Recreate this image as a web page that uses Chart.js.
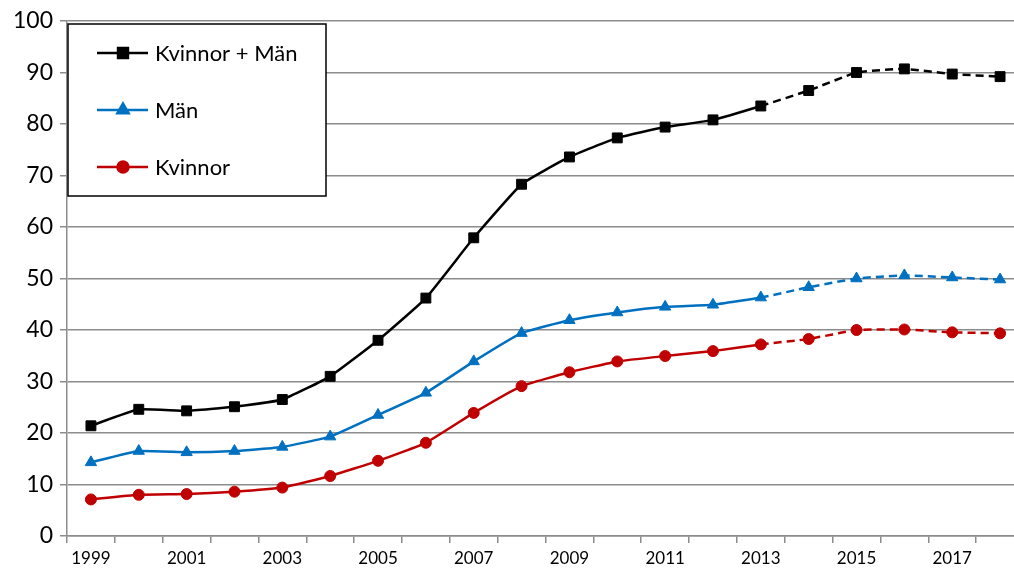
<!DOCTYPE html>
<html>
<head>
<meta charset="utf-8">
<script src="https://cdn.jsdelivr.net/npm/chart.js@4"></script>
<style>
  html, body { margin: 0; padding: 0; background: #fff; overflow: hidden; }
  #wrap { width: 1014px; height: 572px; overflow: hidden; }
  canvas { display: block; }
</style>
</head>
<body>
<div id="wrap"><canvas id="c" width="1032" height="572"></canvas></div>
<script>
// Years on the category axis
const years = ['1999','2000','2001','2002','2003','2004','2005','2006','2007','2008',
               '2009','2010','2011','2012','2013','2014','2015','2016','2017','2018'];
// Series values
const total = [21.4, 24.6, 24.3, 25.1, 26.5, 31.0, 38.0, 46.2, 57.9, 68.3,
               73.6, 77.3, 79.4, 80.8, 83.5, 86.5, 90.0, 90.7, 89.7, 89.2];
const men   = [14.3, 16.5, 16.25, 16.5, 17.3, 19.3, 23.5, 27.8, 33.9, 39.4,
               41.9, 43.4, 44.5, 44.9, 46.3, 48.3, 50.0, 50.6, 50.2, 49.8];
const women = [7.1, 8.0, 8.15, 8.6, 9.4, 11.65, 14.6, 18.1, 23.9, 29.1,
               31.8, 33.9, 34.95, 35.9, 37.2, 38.25, 40.0, 40.1, 39.55, 39.35];
// Labels
const seriesNames = ['Kvinnor + Män', 'Män', 'Kvinnor'];
const yTicks = [0, 10, 20, 30, 40, 50, 60, 70, 80, 90, 100];
// Index from which the lines continue dashed
const dashFrom = years.indexOf('2013');

const FONT = 'Lato, "Open Sans", sans-serif';

function ds(label, data, color, style, radius) {
  return {
    label, data,
    borderColor: color, backgroundColor: color,
    pointBackgroundColor: color, pointBorderColor: color,
    borderWidth: 2.5, pointStyle: style, pointRadius: radius, pointBorderWidth: 1,
    tension: 0.12, fill: false,
    segment: {
      borderDash: ctx => ctx.p0DataIndex >= dashFrom ? [8, 5] : undefined
    }
  };
}

// Boxed legend in the upper left of the plot
const boxLegend = {
  id: 'boxLegend',
  afterDraw(chart) {
    const c = chart.ctx;
    const x0 = 68, y0 = 24, x1 = 326, y1 = 196;
    c.save();
    c.fillStyle = '#fff';
    c.fillRect(x0, y0, x1 - x0, y1 - y0);
    c.strokeStyle = '#000';
    c.lineWidth = 1.5;
    c.strokeRect(x0, y0, x1 - x0, y1 - y0);
    const rows = [53, 110, 167];
    chart.data.datasets.forEach((d, i) => {
      const y = rows[i];
      c.strokeStyle = d.borderColor;
      c.lineWidth = 2.5;
      c.beginPath(); c.moveTo(97, y); c.lineTo(148, y); c.stroke();
      c.fillStyle = d.borderColor;
      Chart.helpers.drawPoint(c, { pointStyle: d.pointStyle, radius: d.pointRadius, rotation: 0, borderWidth: 1 }, 123, y);
      c.fill();
      c.fillStyle = '#000';
      c.font = '22px ' + FONT;
      c.textBaseline = 'middle';
      c.textAlign = 'left';
      c.fillText(seriesNames[i], 155, y + 1);
    });
    c.restore();
  }
};

new Chart(document.getElementById('c'), {
  type: 'line',
  data: {
    labels: years,
    datasets: [
      ds(seriesNames[0], total, '#000000', 'rect', 7),
      ds(seriesNames[1], men, '#0070C0', 'triangle', 6.5),
      ds(seriesNames[2], women, '#C00000', 'circle', 5.5)
    ]
  },
  options: {
    responsive: false,
    animation: false,
    layout: { padding: { top: 21, right: 0, left: 0, bottom: 0 } },
    plugins: { legend: { display: false }, tooltip: { enabled: false } },
    scales: {
      x: {
        type: 'category',
        offset: true,
        grid: { offset: true, drawOnChartArea: false, drawTicks: true, tickLength: 7, color: '#8c8c8c', lineWidth: 1.5 },
        border: { display: true, color: '#8c8c8c', width: 1.5 },
        ticks: {
          autoSkip: false, maxRotation: 0, padding: 5,
          color: '#000', font: { family: FONT, size: 17 },
          callback: (v, i) => (i % 2 === 0 ? years[i] : '')
        },
        afterFit: s => { s.height = 36; }
      },
      y: {
        min: 0, max: 100,
        afterBuildTicks: s => { s.ticks = yTicks.map(v => ({ value: v })); },
        grid: { color: '#8c8c8c', lineWidth: 1.5, tickLength: 7 },
        border: { display: true, color: '#8c8c8c', width: 1.5 },
        ticks: { padding: 7, color: '#000', font: { family: FONT, size: 23 } },
        afterFit: s => { s.width = 67; }
      }
    }
  },
  plugins: [boxLegend]
});
</script>
</body>
</html>
